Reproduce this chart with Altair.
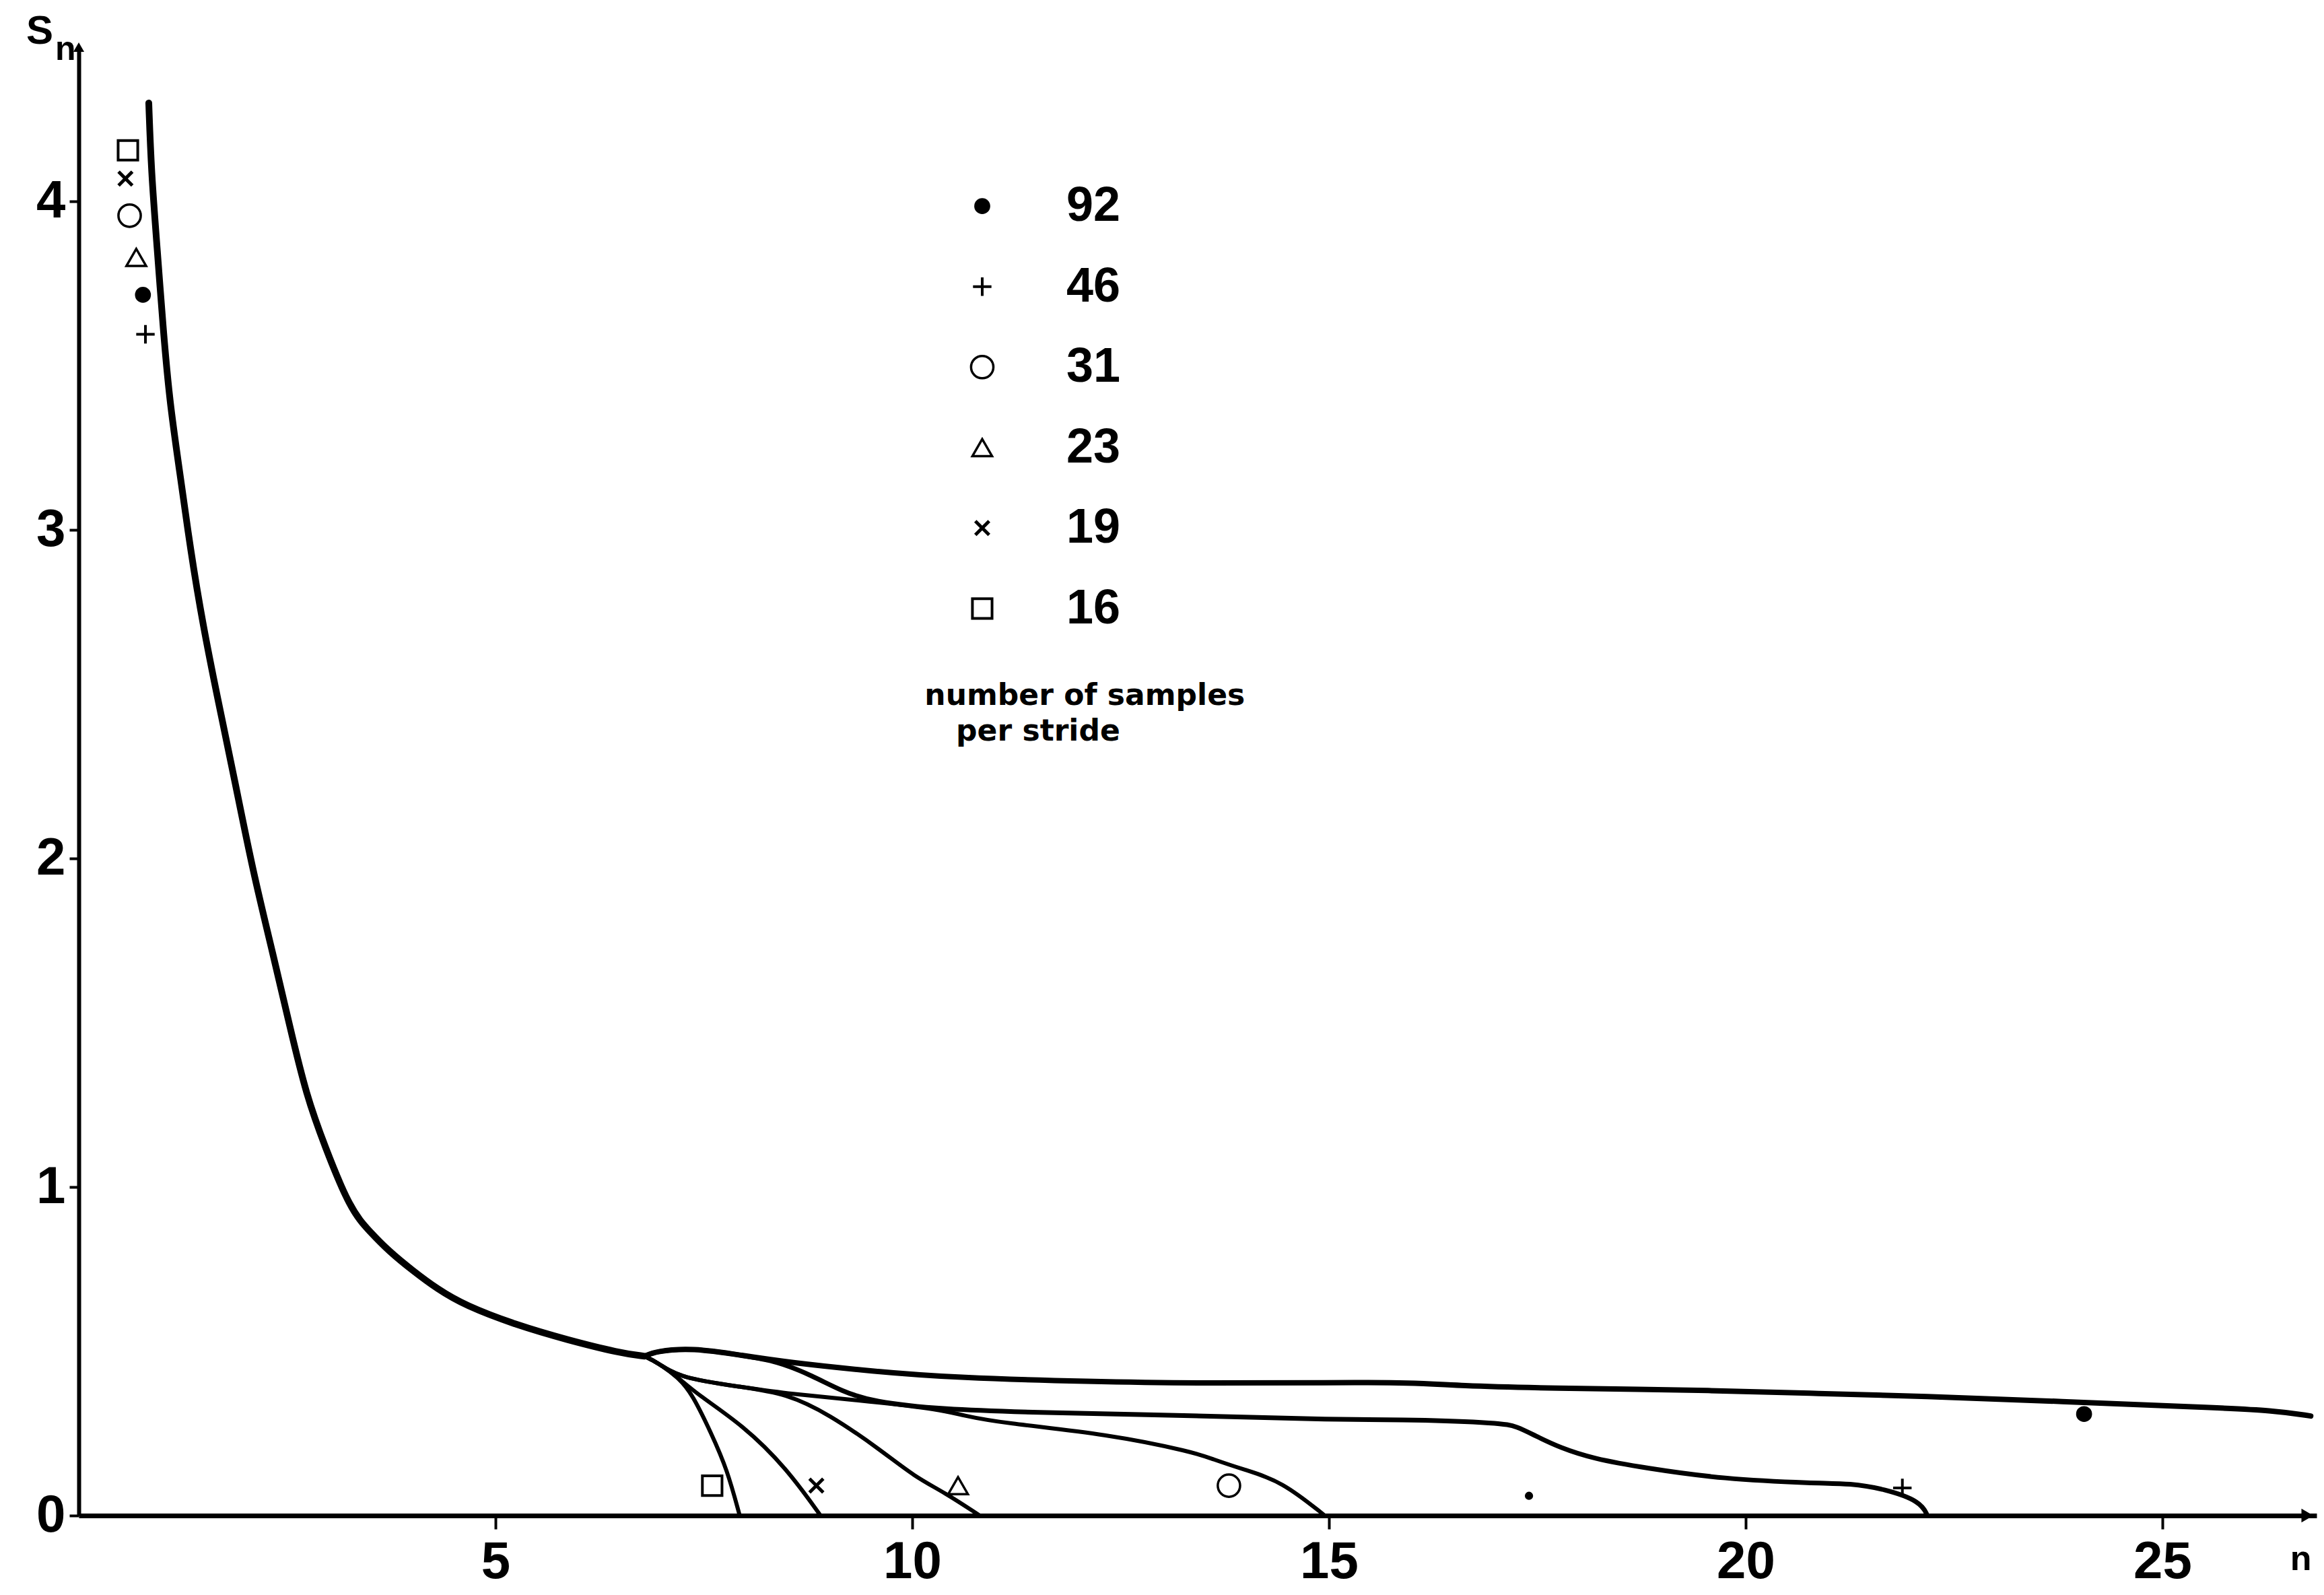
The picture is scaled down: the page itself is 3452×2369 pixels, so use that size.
import altair as alt
import pandas as pd

# ---------------- data ----------------
SERIES = ["92", "46", "31", "23", "19", "16"]

# common descending part of all curves
MAIN_N = [0.84, 0.87, 0.94, 1.01, 1.09, 1.21, 1.34, 1.49, 1.68, 1.87, 2.09, 2.33, 2.54,
          2.73, 2.95, 3.26, 3.49, 3.72, 4.01, 4.30, 4.63, 5.25, 5.86, 6.49, 6.79]
MAIN_S = [4.30, 4.09, 3.86, 3.62, 3.39, 3.18, 2.94, 2.71, 2.47, 2.24, 1.96, 1.71, 1.48,
          1.28, 1.125, 0.93, 0.865, 0.805, 0.745, 0.69, 0.64, 0.58, 0.535, 0.495, 0.485]

# branches after the junction
B92_N = [6.79, 6.92, 7.36, 7.97, 8.49, 9.52, 10.55, 12.09, 13.59, 15.0, 16.01, 16.57,
         17.55, 19.72, 20.86, 22.1, 23.8, 25.5, 26.35, 26.78]
B92_S = [0.485, 0.50, 0.511, 0.487, 0.467, 0.439, 0.419, 0.408, 0.402, 0.405, 0.405, 0.395,
         0.388, 0.381, 0.371, 0.364, 0.347, 0.33, 0.32, 0.303]

B46_N = [6.79, 6.92, 7.36, 7.97, 8.38, 8.80, 9.16, 9.52, 10.34, 11.58, 13.59, 15.03, 16.01,
         17.06, 17.25, 17.49, 17.77, 18.17, 18.79, 19.72, 20.86, 21.25, 21.67, 22.1, 22.18]
B46_S = [0.485, 0.50, 0.511, 0.487, 0.47, 0.426, 0.378, 0.347, 0.323, 0.313, 0.303, 0.292, 0.292,
         0.282, 0.272, 0.241, 0.207, 0.173, 0.145, 0.111, 0.098, 0.098, 0.081, 0.043, 0.0]

B31_N = [6.79, 6.95, 7.2, 7.97, 8.49, 9.52, 10.34, 10.6, 11.07, 12.35, 13.38, 13.59, 13.99, 14.43, 14.95]
B31_S = [0.485, 0.465, 0.419, 0.391, 0.371, 0.347, 0.323, 0.305, 0.282, 0.248, 0.193, 0.173, 0.139, 0.105, 0.0]

B23_N = [6.79, 6.95, 7.2, 7.97, 8.49, 9.0, 9.62, 10.03, 10.39, 10.81]
B23_S = [0.485, 0.465, 0.419, 0.391, 0.371, 0.309, 0.2, 0.118, 0.07, 0.0]

B19_N = [6.79, 6.95, 7.2, 7.41, 7.97, 8.49, 8.9]
B19_S = [0.485, 0.465, 0.419, 0.371, 0.275, 0.145, 0.0]

B16_N = [6.79, 6.95, 7.2, 7.36, 7.59, 7.78, 7.93]
B16_S = [0.485, 0.465, 0.419, 0.37, 0.25, 0.14, 0.0]

# symbols near the start of the curves (one per series, same order as SERIES)
START_N = [0.77, 0.80, 0.61, 0.69, 0.56, 0.59]
START_S = [3.716, 3.596, 3.957, 3.83, 4.07, 4.156]

# symbols near the end of each curve
END_N = [24.06, 21.88, 13.8, 10.55, 8.85, 7.6]
END_S = [0.309, 0.084, 0.091, 0.091, 0.091, 0.091]

# small isolated dot
DOT_N = [17.4]
DOT_S = [0.06]

X_TICKS = [5, 10, 15, 20, 25]
Y_TICKS = [0, 1, 2, 3, 4]

LEGEND_TITLE = ["number of samples", "per stride"]

# ---------------- layout constants ----------------
X_DOMAIN = [0, 26.85]
Y_DOMAIN = [0, 4.47]
PLOT_W = 3324
PLOT_H = 2181

LEG_SYM_N = 10.84
LEG_TXT_N = 11.85
LEG_TOP_S = 3.986
LEG_STEP = 0.245
CAP_N = [12.07, 11.51]
CAP_S = [2.495, 2.385]

PLUS = "M-1,0L1,0M0,-1L0,1"
CROSS = "M-1,-1L1,1M-1,1L1,-1"
STYLE = {
    "92": dict(shape="circle", filled=True, size=560, strokeWidth=1),
    "46": dict(shape=PLUS, filled=False, size=750, strokeWidth=4),
    "31": dict(shape="circle", filled=False, size=1100, strokeWidth=3.5),
    "23": dict(shape="triangle-up", filled=False, size=850, strokeWidth=3.5),
    "19": dict(shape=CROSS, filled=False, size=420, strokeWidth=5),
    "16": dict(shape="square", filled=False, size=850, strokeWidth=4),
}
LINE_W = {"92": 8, "46": 7, "31": 6, "23": 6, "19": 6, "16": 6}

FONT = "Liberation Sans"

x_axis = alt.Axis(values=X_TICKS, grid=False, domainColor="black", domainWidth=7,
                  tickColor="black", tickWidth=4, tickSize=20,
                  labelFont=FONT, labelFontWeight="bold", labelFontSize=78,
                  labelColor="black", labelPadding=10, labelFlush=False,
                  title="n", titleFont=FONT, titleFontWeight="bold", titleFontSize=52,
                  titleColor="black", titleX=3300, titleY=64, titleAlign="center",
                  titleBaseline="middle", titleAngle=0)
y_axis = alt.Axis(values=Y_TICKS, grid=False, domainColor="black", domainWidth=6,
                  tickColor="black", tickWidth=4, tickSize=14,
                  labelFont=FONT, labelFontWeight="bold", labelFontSize=78,
                  labelColor="black", labelPadding=6, labelFlush=False,
                  format="d", title=None)

X = alt.X("n:Q", scale=alt.Scale(domain=X_DOMAIN, nice=False, zero=False), axis=x_axis, title="n")
Y = alt.Y("S:Q", scale=alt.Scale(domain=Y_DOMAIN, nice=False, zero=False), axis=y_axis, title=None)


def df(ns, ss, **extra):
    d = pd.DataFrame({"n": ns, "S": ss})
    for k, v in extra.items():
        d[k] = v
    return d


layers = []

# main common curve
layers.append(alt.Chart(df(MAIN_N, MAIN_S)).mark_line(
    interpolate="basis", color="black", strokeWidth=10, strokeCap="round", strokeJoin="round"
).encode(x=X, y=Y))

branches = {"92": (B92_N, B92_S), "46": (B46_N, B46_S), "31": (B31_N, B31_S),
            "23": (B23_N, B23_S), "19": (B19_N, B19_S), "16": (B16_N, B16_S)}
for name in SERIES:
    bn, bs = branches[name]
    layers.append(alt.Chart(df(bn, bs, series=name)).mark_line(
        interpolate="basis", color="black", strokeWidth=LINE_W[name],
        strokeCap="round", strokeJoin="round"
    ).encode(x=X, y=Y))

# markers: start, end and legend symbols
for i, name in enumerate(SERIES):
    st = STYLE[name]
    leg_s = LEG_TOP_S - i * LEG_STEP
    d = df([START_N[i], END_N[i], LEG_SYM_N], [START_S[i], END_S[i], leg_s], series=name)
    layers.append(alt.Chart(d).mark_point(
        shape=st["shape"], filled=st["filled"], size=st["size"],
        strokeWidth=st["strokeWidth"], color="black", opacity=1
    ).encode(x=X, y=Y))

# small dot
layers.append(alt.Chart(df(DOT_N, DOT_S)).mark_point(
    shape="circle", filled=True, size=150, color="black", opacity=1
).encode(x=X, y=Y))

# legend labels
leg_lab = df([LEG_TXT_N] * len(SERIES), [LEG_TOP_S - i * LEG_STEP for i in range(len(SERIES))],
             label=SERIES)
layers.append(alt.Chart(leg_lab).mark_text(
    align="left", baseline="middle", font=FONT, fontWeight="bold", fontSize=72, color="black"
).encode(x=X, y=Y, text="label:N"))

# legend caption
cap = df(CAP_N, CAP_S, label=LEGEND_TITLE)
layers.append(alt.Chart(cap).mark_text(
    align="center", baseline="middle", font="DejaVu Sans", fontWeight="bold", fontSize=44,
    color="black"
).encode(x=X, y=Y, text="label:N"))

# y axis title S_n
layers.append(alt.Chart(df([-0.468], [4.518], label=["S"])).mark_text(
    align="center", baseline="middle", font=FONT, fontWeight="bold", fontSize=60, color="black"
).encode(x=X, y=Y, text="label:N"))
layers.append(alt.Chart(df([-0.16], [4.462], label=["n"])).mark_text(
    align="center", baseline="middle", font=FONT, fontWeight="bold", fontSize=50, color="black"
).encode(x=X, y=Y, text="label:N"))

# arrow heads at the ends of the axes
layers.append(alt.Chart(df([0], [Y_DOMAIN[1]])).mark_point(
    shape="triangle-up", filled=True, size=260, color="black", opacity=1
).encode(x=X, y=Y))
layers.append(alt.Chart(df([26.74], [0])).mark_point(
    shape="triangle-right", filled=True, size=420, color="black", opacity=1
).encode(x=X, y=Y))

chart = alt.layer(*layers).properties(
    width=PLOT_W, height=PLOT_H,
    autosize=alt.AutoSizeParams(type="none"),
    padding={"left": 109, "top": 62, "right": 3, "bottom": 110},
    background="white",
).configure_view(stroke=None)

chart.save("out.html", embed_options={"renderer": "svg", "actions": False})
